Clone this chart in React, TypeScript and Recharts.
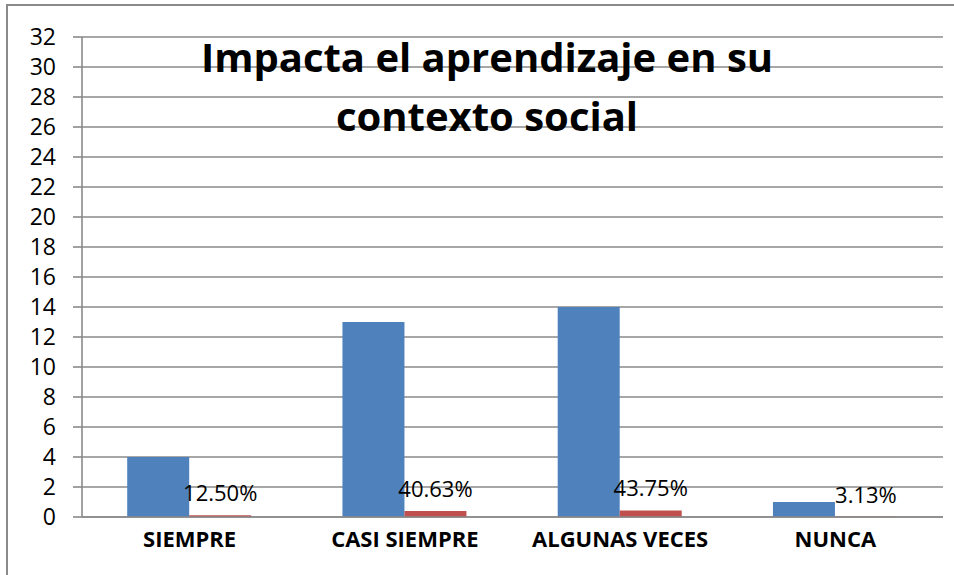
import React from "react";
import { BarChart, Bar, XAxis, YAxis, CartesianGrid, LabelList } from "recharts";

const categories = ["SIEMPRE", "CASI SIEMPRE", "ALGUNAS VECES", "NUNCA"];
const counts = [4, 13, 14, 1];
const shares = [0.125, 0.4063, 0.4375, 0.0313];
const yTicks = [0, 2, 4, 6, 8, 10, 12, 14, 16, 18, 20, 22, 24, 26, 28, 30, 32];

const data = categories.map((name, i) => ({
  name,
  count: counts[i],
  share: shares[i],
}));

const FONT = "'Open Sans', 'Noto Sans', sans-serif";
const GRID = "#8a8a8a";

export default function App() {
  return (
    <div
      style={{
        position: "absolute",
        left: 0,
        top: 0,
        width: 954,
        height: 575,
        background: "#fff",
        overflow: "hidden",
        fontFamily: FONT,
      }}
    >
      {/* outer chart frame, only top and left edges visible */}
      <div
        style={{
          position: "absolute",
          left: 6,
          top: 4,
          width: 960,
          height: 600,
          borderTop: `2px solid ${GRID}`,
          borderLeft: `2px solid ${GRID}`,
        }}
      />
      <BarChart
        width={954}
        height={575}
        data={data}
        margin={{ top: 37, right: 11, bottom: 18, left: 0 }}
        barCategoryGap="21%"
        barGap={0}
        style={{ position: "absolute", left: 0, top: 0 }}
      >
        <CartesianGrid vertical={false} stroke={GRID} strokeWidth={1.6} />
        <YAxis
          type="number"
          domain={[0, 32]}
          ticks={yTicks}
          interval={0}
          width={82}
          tickSize={9}
          tickMargin={17}
          axisLine={{ stroke: GRID, strokeWidth: 1.6 }}
          tickLine={{ stroke: GRID, strokeWidth: 1.6 }}
          tick={{ fontSize: 23, fill: "#000", fontFamily: FONT }}
        />
        <XAxis
          dataKey="name"
          height={40}
          tickLine={false}
          axisLine={{ stroke: GRID, strokeWidth: 1.6 }}
          tickMargin={8}
          tick={{ fontSize: 22, fill: "#000", fontWeight: 700, fontFamily: FONT }}
        />
        <Bar dataKey="count" fill="#4F81BD" isAnimationActive={false} />
        <Bar dataKey="share" fill="#C0504D" isAnimationActive={false}>
          <LabelList
            dataKey="share"
            position="top"
            offset={14}
            formatter={(v: number) => `${(v * 100).toFixed(2)}%`}
            style={{ fontSize: 22, fill: "#000", fontFamily: FONT }}
          />
        </Bar>
      </BarChart>
      <div
        style={{
          position: "absolute",
          left: 187,
          width: 600,
          top: 27,
          textAlign: "center",
          fontSize: 40,
          lineHeight: "59px",
          fontWeight: 700,
          color: "#000",
          fontFamily: FONT,
        }}
      >
        Impacta el aprendizaje en su
        <br />
        contexto social
      </div>
    </div>
  );
}
